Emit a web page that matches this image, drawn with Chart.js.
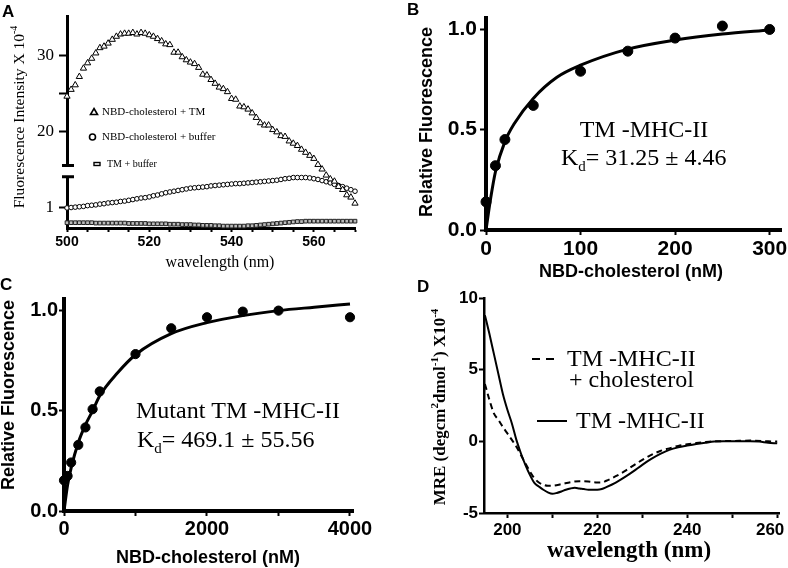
<!DOCTYPE html>
<html>
<head>
<meta charset="utf-8">
<script src="https://cdn.jsdelivr.net/npm/chart.js@4.4.1/dist/chart.umd.min.js"></script>
<style>
  html, body { margin: 0; padding: 0; background: #fff; }
  #wrap { position: relative; width: 788px; height: 568px; overflow: hidden; background: #fff; }
  canvas { position: absolute; }
  .lbl { position: absolute; font: bold 17px "Liberation Sans", Arial, sans-serif; line-height: 1; color: #000; }
</style>
</head>
<body>
<div id="wrap">
  <canvas id="cA" width="394" height="284" style="left:0;top:0"></canvas>
  <canvas id="cB" width="430" height="284" style="left:394px;top:0"></canvas>
  <canvas id="cC" width="394" height="284" style="left:0;top:284px"></canvas>
  <canvas id="cD" width="430" height="284" style="left:394px;top:284px"></canvas>
  <div class="lbl" style="left:2px;top:3px">A</div>
  <div class="lbl" style="left:407px;top:1px">B</div>
  <div class="lbl" style="left:0px;top:276px">C</div>
  <div class="lbl" style="left:417px;top:278px">D</div>
</div>
<script>
// ---- panel A: fluorescence spectra (1 nm steps) ----
const aWave = [500, 501, 502, 503, 504, 505, 506, 507, 508, 509, 510, 511, 512, 513, 514, 515, 516, 517, 518, 519,
  520, 521, 522, 523, 524, 525, 526, 527, 528, 529, 530, 531, 532, 533, 534, 535, 536, 537, 538, 539,
  540, 541, 542, 543, 544, 545, 546, 547, 548, 549, 550, 551, 552, 553, 554, 555, 556, 557, 558, 559,
  560, 561, 562, 563, 564, 565, 566, 567, 568, 569, 570];
const aCholTM = [24.6, 25.5, 26.1, 27.2, 28.3, 29.0, 29.6, 30.3, 31.0, 31.2, 31.6, 32.1, 32.5, 32.8, 32.9, 32.9, 33.0, 32.8, 33.0, 32.9,
  32.7, 32.5, 32.2, 31.9, 31.5, 31.4, 30.4, 30.4, 29.8, 29.4, 29.1, 28.9, 28.4, 27.5, 27.4, 26.8, 26.3, 25.8, 25.6, 25.2,
  24.3, 24.2, 23.3, 23.2, 22.9, 22.4, 21.8, 21.1, 20.8, 20.8, 20.2, 19.9, 19.4, 19.3, 18.7, 18.4, 18.1, 17.6, 17.2, 16.8,
  16.4, 15.6, 15.0, 14.2, 13.7, 13.4, 12.7, 12.3, 11.6, 11.3, 10.5];
const aCholBuffer = [9.9, 9.95, 10.0, 10.05, 10.1, 10.2, 10.25, 10.3, 10.4, 10.45, 10.55, 10.6, 10.65, 10.75, 10.8, 10.9, 11.0, 11.1, 11.2, 11.25,
  11.35, 11.5, 11.6, 11.75, 11.9, 12.0, 12.1, 12.2, 12.3, 12.4, 12.5, 12.55, 12.6, 12.65, 12.7, 12.8, 12.85, 12.9, 12.95, 13.0,
  13.05, 13.1, 13.1, 13.15, 13.2, 13.25, 13.3, 13.35, 13.4, 13.45, 13.5, 13.55, 13.65, 13.75, 13.8, 13.9, 13.9, 13.9, 13.9, 13.85,
  13.75, 13.65, 13.5, 13.35, 13.2, 13.0, 12.85, 12.7, 12.5, 12.3, 12.1];
const aTMBuffer = [7.95, 7.95, 7.95, 7.95, 7.95, 7.95, 7.95, 7.9, 7.9, 7.9, 7.9, 7.9, 7.9, 7.9, 7.9, 7.85, 7.85, 7.85, 7.85, 7.85,
  7.8, 7.8, 7.8, 7.8, 7.8, 7.75, 7.75, 7.75, 7.7, 7.7, 7.7, 7.65, 7.65, 7.6, 7.6, 7.6, 7.55, 7.55, 7.5, 7.5,
  7.5, 7.5, 7.5, 7.5, 7.55, 7.55, 7.6, 7.65, 7.7, 7.75, 7.8, 7.85, 7.9, 7.95, 8.0, 8.05, 8.1, 8.1, 8.15, 8.15,
  8.15, 8.15, 8.15, 8.15, 8.15, 8.15, 8.15, 8.15, 8.15, 8.15, 8.15];
const aXTicks = [500, 505, 510, 515, 520, 525, 530, 535, 540, 545, 550, 555, 560, 565, 570];
const aXLabels = ['500', '', '', '', '520', '', '', '', '540', '', '', '', '560', '', ''];
const aYTicks = [10, 20, 25, 30];
const aYLabels = ['1', '20', '', '30'];
const aBreak = [14.0, 15.5];

// ---- panel B: TM-MHC-II binding ----
const bConc = [0, 10, 20, 50, 100, 150, 200, 250, 300];
const bRel = [0.14, 0.32, 0.45, 0.62, 0.79, 0.89, 0.955, 1.015, 0.998];
const bFitConc = [0, 5, 10, 20, 30, 50, 75, 100, 150, 200, 250, 300];
const bFitRel = [0, 0.16, 0.29, 0.44, 0.53, 0.655, 0.76, 0.82, 0.9, 0.945, 0.975, 0.995];
const bXTicks = [0, 100, 200, 300];
const bYTicks = [0, 0.5, 1];
const bYLabels = ['0.0', '0.5', '1.0'];

// ---- panel C: mutant TM-MHC-II binding ----
const cConc = [0, 50, 100, 200, 300, 400, 500, 1000, 1500, 2000, 2500, 3000, 4000];
const cRel = [0.153, 0.175, 0.242, 0.33, 0.417, 0.508, 0.597, 0.783, 0.912, 0.967, 0.995, 1.0, 0.967];
const cFitConc = [0, 50, 100, 200, 300, 400, 500, 750, 1000, 1500, 2000, 2500, 3000, 3500, 4000];
const cFitRel = [0, 0.13, 0.215, 0.342, 0.43, 0.5, 0.575, 0.69, 0.78, 0.885, 0.94, 0.975, 1.0, 1.017, 1.033];
const cXTicks = [0, 1000, 2000, 3000, 4000];
const cXLabels = ['0', '', '2000', '', '4000'];

// ---- panel D: CD spectra ----
const dWave = [195, 196, 197, 198, 199, 200, 201, 202, 203, 204, 205, 206, 207, 208, 209, 210, 211, 212, 213, 214,
  215, 216, 217, 218, 219, 220, 221, 222, 224, 226, 228, 230, 232, 234, 236, 238, 240, 242, 244, 246,
  248, 250, 252, 254, 256, 258, 260];
const dTM = [8.8, 7.5, 6.1, 4.7, 3.3, 2.2, 1.25, 0.1, -0.83, -1.64, -2.34, -2.9, -3.15, -3.38, -3.56, -3.66, -3.6, -3.5, -3.38, -3.29,
  -3.24, -3.29, -3.33, -3.38, -3.38, -3.38, -3.33, -3.2, -2.9, -2.52, -2.1, -1.64, -1.23, -0.88, -0.6, -0.42, -0.3, -0.19, -0.1, -0.02,
  0, 0, 0, 0, -0.02, -0.1, -0.14];
const dWaveChol = [195, 196, 197, 198, 199, 200, 201, 202, 203, 204, 205, 206, 207, 208, 209, 210, 212, 214, 216, 218,
  220, 221, 222, 224, 226, 228, 230, 232, 234, 236, 238, 240, 242, 244, 246, 250, 254, 258, 260];
const dTMChol = [4.0, 2.9, 1.95, 1.5, 1.0, 0.55, 0.1, -0.37, -0.95, -1.53, -2.1, -2.57, -2.87, -3.03, -3.1, -3.1, -2.99, -2.85, -2.78, -2.8,
  -2.87, -2.87, -2.75, -2.45, -2.1, -1.69, -1.3, -0.95, -0.67, -0.49, -0.32, -0.21, -0.12, -0.05, 0, 0.02, 0.05, 0, -0.02];
const dXTicks = [200, 210, 220, 230, 240, 250, 260];
// last label padded so it sits inside the figure like the original
const dXLabels = ['200', '', '220', '', '240', '', '260   '];
const dYTicks = [-5, 0, 5, 10];

const SANS = '"Liberation Sans", Arial, sans-serif';
const SERIF = '"Liberation Serif", "Times New Roman", serif';

const pts = (xs, ys) => xs.map((x, i) => ({ x, y: ys[i] }));

// draw a centred (or left aligned) run of text pieces, optionally rotated
function drawRich(ctx, it) {
  ctx.save();
  ctx.translate(it.x, it.y);
  if (it.rot) ctx.rotate(it.rot * Math.PI / 180);
  ctx.fillStyle = '#000';
  ctx.textBaseline = 'middle';
  ctx.textAlign = 'left';
  const segs = it.segs.map(s => (typeof s === 'string' ? { t: s } : s));
  const font = s => (it.weight || 'normal') + ' ' + (s.size || it.size) + 'px ' + it.family;
  let w = 0;
  segs.forEach(s => { ctx.font = font(s); s.w = ctx.measureText(s.t).width; w += s.w; });
  let x = it.align === 'left' ? 0 : -w / 2;
  segs.forEach(s => { ctx.font = font(s); ctx.fillText(s.t, x, s.dy || 0); x += s.w; });
  ctx.restore();
}

const textLayer = items => ({
  id: 'texts',
  afterDraw(chart) { items.forEach(it => drawRich(chart.ctx, it)); }
});

function axis(o) {
  return {
    type: 'linear',
    min: o.min,
    max: o.max,
    afterFit: s => { if (o.horizontal) s.height = o.fit; else s.width = o.fit; },
    afterBuildTicks: s => { s.ticks = o.ticks.map(v => ({ value: v })); },
    border: { display: true, color: '#000', width: o.border },
    grid: { drawOnChartArea: false, drawTicks: true, tickLength: o.tickLen, tickColor: '#000', tickWidth: o.tickWidth || 2 },
    ticks: {
      autoSkip: false, maxRotation: 0, padding: o.pad, color: '#000',
      font: { family: o.family, size: o.size, weight: o.weight || 'normal' },
      callback: (v, i) => o.labels[i]
    }
  };
}

function baseOptions(padding, scales) {
  return {
    responsive: false,
    animation: false,
    devicePixelRatio: 1,
    events: [],
    layout: { padding },
    plugins: { legend: { display: false }, tooltip: { enabled: false } },
    scales
  };
}

// ---------- A ----------
const aDeco = {
  id: 'decoA',
  afterDraw(chart) {
    const ctx = chart.ctx;
    const left = chart.chartArea.left;
    const y1 = chart.scales.y.getPixelForValue(aBreak[1]);
    const y2 = chart.scales.y.getPixelForValue(aBreak[0]);
    ctx.save();
    ctx.fillStyle = '#fff';
    ctx.fillRect(left - 3, y1, 6, y2 - y1);
    ctx.strokeStyle = '#000';
    ctx.lineWidth = 3;
    ctx.beginPath();
    ctx.moveTo(left - 5, y1); ctx.lineTo(left + 7, y1);
    ctx.moveTo(left - 5, y2); ctx.lineTo(left + 7, y2);
    ctx.stroke();
    // legend markers
    ctx.lineWidth = 1.6;
    ctx.beginPath();
    ctx.moveTo(94, 108.5); ctx.lineTo(97.5, 114.5); ctx.lineTo(90.5, 114.5); ctx.closePath();
    ctx.stroke();
    ctx.beginPath();
    ctx.arc(92.5, 137, 3, 0, Math.PI * 2);
    ctx.stroke();
    ctx.lineWidth = 1.4;
    ctx.strokeRect(94, 162.5, 6, 3);
    ctx.restore();
  }
};

new Chart(document.getElementById('cA'), {
  type: 'scatter',
  data: {
    datasets: [
      { data: pts(aWave, aCholTM), pointStyle: 'triangle', pointRadius: 3.6, pointBorderWidth: 1, borderColor: '#000', backgroundColor: '#fff', clip: false },
      { data: pts(aWave, aCholBuffer), pointStyle: 'circle', pointRadius: 2.3, pointBorderWidth: 1, borderColor: '#000', backgroundColor: '#fff', clip: false },
      { data: pts(aWave, aTMBuffer), pointStyle: 'rect', pointRadius: 2.6, pointBorderWidth: 1, borderColor: '#222', backgroundColor: '#bbb', clip: false }
    ]
  },
  options: baseOptions({ left: 17, right: 39, top: 16, bottom: 26 }, {
    x: axis({ horizontal: true, min: 500, max: 570, ticks: aXTicks, labels: aXLabels, fit: 30, tickLen: 4, pad: 2, border: 3, family: SANS, size: 14, weight: 'bold' }),
    y: axis({ min: 7.25, max: 35.2, ticks: aYTicks, labels: aYLabels, fit: 50, tickLen: 8, pad: 5, border: 3, family: SERIF, size: 17 })
  }),
  plugins: [aDeco, textLayer([
    { x: 20, y: 117, rot: -90, family: SERIF, size: 15.5, segs: ['Fluorescence Intensity X 10', { t: '-4', size: 10, dy: -6 }] },
    { x: 220, y: 263, family: SERIF, size: 16, segs: ['wavelength (nm)'] },
    { x: 102, y: 112, align: 'left', family: SERIF, size: 11, segs: ['NBD-cholesterol + TM'] },
    { x: 102, y: 137, align: 'left', family: SERIF, size: 11, segs: ['NBD-cholesterol + buffer'] },
    { x: 107, y: 164, align: 'left', family: SERIF, size: 10, segs: ['TM + buffer'] }
  ])]
});

// ---------- B ----------
new Chart(document.getElementById('cB'), {
  type: 'scatter',
  data: {
    datasets: [
      { data: pts(bFitConc, bFitRel), showLine: true, cubicInterpolationMode: 'monotone', borderColor: '#000', borderWidth: 3, pointRadius: 0, clip: false },
      { data: pts(bConc, bRel), pointRadius: 5, borderColor: '#000', backgroundColor: '#000', clip: false }
    ]
  },
  options: baseOptions({ left: 32, right: 43, top: 18, bottom: 24 }, {
    x: axis({ horizontal: true, min: 0, max: 312, ticks: bXTicks, labels: bXTicks.map(String), fit: 30, tickLen: 5, pad: 2, border: 4, family: SANS, size: 21, weight: 'bold' }),
    y: axis({ min: 0, max: 1.055, ticks: bYTicks, labels: bYLabels, fit: 60, tickLen: 6, pad: 3, border: 4, family: SANS, size: 21, weight: 'bold' })
  }),
  plugins: [textLayer([
    { x: 33, y: 122, rot: -90, family: SANS, weight: 'bold', size: 18, segs: ['Relative Fluorescence'] },
    { x: 237, y: 272, family: SANS, weight: 'bold', size: 18, segs: ['NBD-cholesterol (nM)'] },
    { x: 250, y: 131, family: SERIF, size: 24, segs: ['TM -MHC-II'] },
    { x: 167, y: 159, align: 'left', family: SERIF, size: 24, segs: ['K', { t: 'd', size: 15, dy: 8 }, '= 31.25 \u00b1 4.46'] }
  ])]
});

// ---------- C ----------
new Chart(document.getElementById('cC'), {
  type: 'scatter',
  data: {
    datasets: [
      { data: pts(cFitConc, cFitRel), showLine: true, cubicInterpolationMode: 'monotone', borderColor: '#000', borderWidth: 3, pointRadius: 0, clip: false },
      { data: pts(cConc, cRel), pointRadius: 4.6, borderColor: '#000', backgroundColor: '#000', clip: false }
    ]
  },
  options: baseOptions({ left: 4, right: 41, top: 15, bottom: 27 }, {
    x: axis({ horizontal: true, min: 0, max: 4042, ticks: cXTicks, labels: cXLabels, fit: 30, tickLen: 5, pad: 1, border: 4, family: SANS, size: 20, weight: 'bold' }),
    y: axis({ min: 0, max: 1.058, ticks: bYTicks, labels: bYLabels, fit: 60, tickLen: 5, pad: 1, border: 4, family: SANS, size: 20, weight: 'bold' })
  }),
  plugins: [textLayer([
    { x: 9, y: 111, rot: -90, family: SANS, weight: 'bold', size: 18, segs: ['Relative Fluorescence'] },
    { x: 208, y: 274, family: SANS, weight: 'bold', size: 18, segs: ['NBD-cholesterol (nM)'] },
    { x: 238, y: 128, family: SERIF, size: 24, segs: ['Mutant TM -MHC-II'] },
    { x: 137, y: 157, align: 'left', family: SERIF, size: 24, segs: ['K', { t: 'd', size: 15, dy: 8 }, '= 469.1 \u00b1 55.56'] }
  ])]
});

// ---------- D ----------
const dDeco = {
  id: 'decoD',
  afterDraw(chart) {
    const ctx = chart.ctx;
    ctx.save();
    ctx.strokeStyle = '#000';
    ctx.lineWidth = 2;
    ctx.setLineDash([8, 6]);
    ctx.beginPath(); ctx.moveTo(138, 75); ctx.lineTo(164, 75); ctx.stroke();
    ctx.setLineDash([]);
    ctx.beginPath(); ctx.moveTo(143, 137); ctx.lineTo(173, 137); ctx.stroke();
    ctx.restore();
  }
};

new Chart(document.getElementById('cD'), {
  type: 'scatter',
  data: {
    datasets: [
      { data: pts(dWave, dTM), showLine: true, cubicInterpolationMode: 'monotone', borderColor: '#000', borderWidth: 2, pointRadius: 0 },
      { data: pts(dWaveChol, dTMChol), showLine: true, cubicInterpolationMode: 'monotone', borderColor: '#000', borderWidth: 2, borderDash: [6, 4], pointRadius: 0 }
    ]
  },
  options: baseOptions({ left: 30, right: 45, top: 14, bottom: 25 }, {
    x: axis({ horizontal: true, min: 194.8, max: 260.4, ticks: dXTicks, labels: dXLabels, fit: 30, tickLen: 5, pad: 2, border: 2.5, family: SANS, size: 17, weight: 'bold' }),
    y: axis({ min: -5, max: 10, ticks: dYTicks, labels: dYTicks.map(String), fit: 60, tickLen: 5, pad: 1, border: 2.5, family: SANS, size: 17, weight: 'bold' })
  }),
  plugins: [dDeco, textLayer([
    { x: 47, y: 123, rot: -90, family: SERIF, weight: 'bold', size: 17,
      segs: ['MRE (degcm', { t: '2', size: 11, dy: -6 }, 'dmol', { t: '-1', size: 11, dy: -6 }, ') X10', { t: '-4', size: 11, dy: -6 }] },
    { x: 235, y: 267, family: SERIF, weight: 'bold', size: 23, segs: ['wavelength (nm)'] },
    { x: 173, y: 76, align: 'left', family: SERIF, size: 24, segs: ['TM -MHC-II'] },
    { x: 175, y: 97, align: 'left', family: SERIF, size: 24, segs: ['+ cholesterol'] },
    { x: 182, y: 138, align: 'left', family: SERIF, size: 24, segs: ['TM -MHC-II'] }
  ])]
});
</script>
</body>
</html>
